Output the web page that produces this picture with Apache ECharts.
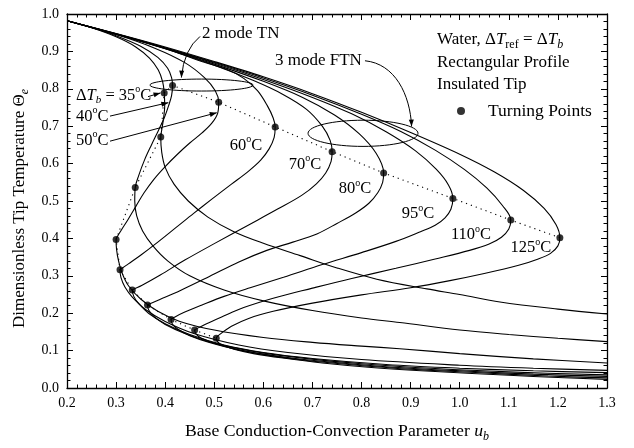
<!DOCTYPE html>
<html>
<head>
<meta charset="utf-8">
<script src="https://cdn.jsdelivr.net/npm/echarts@6/dist/echarts.min.js"></script>
<style>
html,body{margin:0;padding:0;background:#fff}
#chart{width:634px;height:448px}
</style>
</head>
<body>
<div id="chart"></div>
<script>
// Base temperature differences, one solution curve each
const deltaT = [35, 40, 50, 60, 70, 80, 95, 110, 125];

// Turning points (upper and lower fold of each curve), same order as deltaT
const turnUpper = [[0.398,0.789],[0.415,0.809],[0.509,0.764],[0.624,0.698],[0.740,0.632],[0.845,0.575],[0.986,0.507],[1.104,0.449],[1.204,0.402]];
const turnLower = [[0.391,0.671],[0.339,0.536],[0.300,0.397],[0.308,0.316],[0.333,0.262],[0.364,0.222],[0.412,0.183],[0.460,0.155],[0.504,0.133]];

// Upper branches: from u_b = 0.2 down to the upper turning point
const up35  = [[0.2,0.982],[0.25,0.963],[0.3,0.939],[0.34,0.912],[0.368,0.882],[0.386,0.85],[0.395,0.818]];
const up40  = [[0.2,0.982],[0.25,0.964],[0.3,0.942],[0.35,0.914],[0.385,0.884],[0.405,0.855],[0.413,0.83]];
const up50  = [[0.2,0.982],[0.3,0.945],[0.38,0.908],[0.44,0.87],[0.48,0.83],[0.502,0.795]];
const up60  = [[0.2,0.982],[0.3,0.946],[0.4,0.908],[0.47,0.875],[0.525,0.852],[0.56,0.828],[0.588,0.795],[0.608,0.755],[0.62,0.722]];
const up70  = [[0.2,0.982],[0.3,0.946],[0.4,0.907],[0.5,0.863],[0.58,0.822],[0.64,0.785],[0.688,0.745],[0.72,0.7],[0.736,0.662]];
const up80  = [[0.2,0.982],[0.3,0.946],[0.4,0.908],[0.5,0.866],[0.6,0.82],[0.68,0.777],[0.745,0.73],[0.795,0.68],[0.83,0.627]];
const up95  = [[0.2,0.982],[0.3,0.947],[0.4,0.909],[0.5,0.869],[0.6,0.825],[0.7,0.777],[0.78,0.733],[0.85,0.685],[0.91,0.634],[0.952,0.585],[0.977,0.543]];
const up110 = [[0.2,0.982],[0.3,0.947],[0.4,0.91],[0.5,0.871],[0.6,0.829],[0.7,0.783],[0.8,0.732],[0.88,0.686],[0.95,0.636],[1.01,0.584],[1.055,0.535],[1.087,0.488]];
const up125 = [[0.2,0.982],[0.3,0.948],[0.4,0.912],[0.5,0.873],[0.6,0.832],[0.7,0.787],[0.8,0.737],[0.9,0.683],[1.0,0.625],[1.07,0.578],[1.13,0.528],[1.172,0.48],[1.196,0.437]];

// Middle branches: from the upper turning point back to the lower one
const mid35  = [[0.399,0.755],[0.396,0.715],[0.393,0.69]];
const mid40  = [[0.413,0.782],[0.407,0.755],[0.398,0.722],[0.386,0.688],[0.372,0.65],[0.358,0.61],[0.346,0.568]];
const mid50  = [[0.507,0.735],[0.495,0.708],[0.475,0.682],[0.45,0.655],[0.425,0.625],[0.4,0.592],[0.377,0.558],[0.357,0.522],[0.34,0.485],[0.325,0.452],[0.312,0.425],[0.303,0.406]];
const mid60  = [[0.622,0.67],[0.612,0.64],[0.595,0.61],[0.57,0.58],[0.535,0.545],[0.495,0.505],[0.458,0.467],[0.423,0.43],[0.385,0.39],[0.35,0.355],[0.325,0.332],[0.313,0.321]];
const mid70  = [[0.738,0.606],[0.727,0.575],[0.708,0.546],[0.678,0.515],[0.63,0.479],[0.57,0.436],[0.5,0.386],[0.44,0.342],[0.39,0.302],[0.352,0.274],[0.337,0.265]];
const mid80  = [[0.843,0.55],[0.833,0.522],[0.815,0.494],[0.788,0.468],[0.75,0.44],[0.709,0.412],[0.66,0.39],[0.607,0.368],[0.55,0.337],[0.49,0.298],[0.43,0.26],[0.388,0.236],[0.369,0.225]];
const mid95  = [[0.982,0.478],[0.97,0.455],[0.95,0.435],[0.92,0.418],[0.87,0.392],[0.8,0.362],[0.72,0.33],[0.641,0.296],[0.573,0.268],[0.52,0.245],[0.475,0.222],[0.44,0.203],[0.42,0.19]];
const mid110 = [[1.1,0.425],[1.085,0.403],[1.06,0.385],[1.02,0.368],[0.95,0.345],[0.87,0.32],[0.78,0.293],[0.7,0.267],[0.62,0.24],[0.56,0.215],[0.515,0.19],[0.481,0.17],[0.465,0.159]];
const mid125 = [[1.2,0.38],[1.185,0.36],[1.16,0.345],[1.12,0.328],[1.05,0.306],[0.98,0.287],[0.9,0.268],[0.8,0.249],[0.7,0.227],[0.62,0.205],[0.57,0.186],[0.535,0.165],[0.512,0.144]];

// Lower branches: from the lower turning point out to u_b = 1.3
const low35  = [[0.393,0.63],[0.40,0.59],[0.418,0.545],[0.447,0.5],[0.487,0.457],[0.54,0.418],[0.6,0.387],[0.675,0.354],[0.75,0.321],[0.831,0.291],[0.933,0.265],[1.0,0.25],[1.082,0.23],[1.2,0.211],[1.3,0.198]];
const low40  = [[0.338,0.5],[0.342,0.46],[0.354,0.42],[0.375,0.38],[0.405,0.34],[0.45,0.3],[0.52,0.262],[0.6,0.233],[0.7,0.207],[0.8,0.187],[0.878,0.175],[1.0,0.155],[1.1,0.143],[1.2,0.133],[1.3,0.124]];
const low50  = [[0.301,0.37],[0.305,0.34],[0.313,0.305],[0.326,0.272],[0.35,0.238],[0.385,0.205],[0.43,0.178],[0.5,0.155],[0.6,0.135],[0.7,0.122],[0.8,0.112],[0.878,0.105],[1.0,0.092],[1.15,0.078],[1.3,0.067]];
const low60  = [[0.31,0.295],[0.318,0.27],[0.333,0.243],[0.36,0.21],[0.4,0.178],[0.46,0.145],[0.55,0.115],[0.65,0.095],[0.8,0.076],[1.0,0.061],[1.15,0.053],[1.3,0.047]];
const low70  = [[0.336,0.245],[0.346,0.226],[0.366,0.2],[0.4,0.172],[0.45,0.143],[0.52,0.115],[0.6,0.095],[0.7,0.079],[0.85,0.063],[1.0,0.053],[1.15,0.046],[1.3,0.041]];
const low80  = [[0.367,0.207],[0.378,0.19],[0.4,0.17],[0.44,0.146],[0.5,0.12],[0.58,0.098],[0.68,0.08],[0.8,0.065],[0.95,0.052],[1.1,0.043],[1.3,0.035]];
const low95  = [[0.415,0.17],[0.426,0.157],[0.45,0.14],[0.49,0.122],[0.55,0.102],[0.63,0.085],[0.73,0.07],[0.85,0.057],[1.0,0.046],[1.15,0.037],[1.3,0.031]];
const low110 = [[0.463,0.144],[0.474,0.133],[0.5,0.12],[0.54,0.105],[0.6,0.09],[0.68,0.075],[0.78,0.062],[0.9,0.05],[1.05,0.04],[1.18,0.032],[1.3,0.027]];
const low125 = [[0.507,0.123],[0.518,0.114],[0.54,0.104],[0.58,0.092],[0.64,0.08],[0.72,0.067],[0.82,0.055],[0.95,0.044],[1.1,0.034],[1.2,0.028],[1.3,0.023]];

const upperBranches  = [up35, up40, up50, up60, up70, up80, up95, up110, up125];
const middleBranches = [mid35, mid40, mid50, mid60, mid70, mid80, mid95, mid110, mid125];
const lowerBranches  = [low35, low40, low50, low60, low70, low80, low95, low110, low125];

// Axis ranges and ticks
const xRange = {min: 0.2, max: 1.3, step: 0.1};
const yRange = {min: 0.0, max: 1.0, step: 0.1};

const FONT = 'Liberation Serif';
const INK = '#000';

function richSet(size) {
  const s = Math.round(size * 0.68);
  return {
    t:   {fontFamily: FONT, fontSize: size, color: INK},
    i:   {fontFamily: FONT, fontSize: size, color: INK, fontStyle: 'italic'},
    sub: {fontFamily: FONT, fontSize: s, color: INK, fontStyle: 'italic', padding: [Math.round(size * 0.62), 0, 0, 0]},
    subr:{fontFamily: FONT, fontSize: s, color: INK, padding: [Math.round(size * 0.62), 0, 0, 0]},
    sup: {fontFamily: FONT, fontSize: Math.round(size * 0.62), color: INK, padding: [0, 0, Math.round(size * 0.7), 0]}
  };
}
const richXTitle = richSet(17.7);
const richYTitle = richSet(17);
const richNote = richSet(17);
const richTemp = richSet(16.5);

function fullCurve(k) {
  return upperBranches[k].concat([turnUpper[k]], middleBranches[k], [turnLower[k]], lowerBranches[k]);
}

// Locus of turning points: upper folds from hottest to coolest, then lower folds back out
const turnLocus = turnUpper.slice().reverse().concat(turnLower);
const turnAll = turnUpper.concat(turnLower);

const chart = echarts.init(document.getElementById('chart'), null, {renderer: 'canvas'});

function axisCommon(r, pos, showLabel) {
  return {
    type: 'value', min: r.min, max: r.max, interval: r.step, position: pos,
    axisLine: {show: true, onZero: false, lineStyle: {color: INK, width: 1.3}},
    axisTick: {show: true, inside: true, length: 6, lineStyle: {color: INK, width: 1}},
    minorTick: {show: true, splitNumber: 5, length: 3.5, lineStyle: {color: INK, width: 1}},
    splitLine: {show: false},
    axisLabel: {show: showLabel, color: INK, fontFamily: FONT, fontSize: 14, margin: 8,
                formatter: v => v.toFixed(1)}
  };
}

const series = deltaT.map((d, k) => ({
  name: d + ' C',
  type: 'line',
  data: fullCurve(k),
  smooth: 0.35,
  showSymbol: false,
  symbol: 'none',
  clip: true,
  lineStyle: {color: INK, width: 1.1},
  silent: true,
  z: 2
}));

series.push({
  name: 'locus',
  type: 'line',
  data: turnLocus,
  symbol: 'none',
  lineStyle: {color: INK, width: 1.1, type: [1.2, 4]},
  silent: true,
  z: 3
});

series.push({
  name: 'Turning Points',
  type: 'scatter',
  data: turnAll,
  symbol: 'circle',
  symbolSize: 7,
  itemStyle: {color: INK},
  z: 4
});

const xMain = axisCommon(xRange, 'bottom', true);
xMain.name = '{t|Base Conduction-Convection Parameter }{i|u}{sub|b}';
xMain.nameLocation = 'middle';
xMain.nameGap = 32;
xMain.nameTextStyle = {rich: richXTitle};

const yMain = axisCommon(yRange, 'left', true);
yMain.name = '{t|Dimensionless Tip Temperature Θ}{sub|e}';
yMain.nameLocation = 'middle';
yMain.nameGap = 36;
yMain.nameRotate = 90;
yMain.nameTextStyle = {rich: richYTitle, padding: [0, 15, 0, 0]};

const xTop = axisCommon(xRange, 'top', false);
const yRight = axisCommon(yRange, 'right', false);

chart.setOption({
  animation: false,
  backgroundColor: '#fff',
  grid: {left: 67, right: 27, top: 14, bottom: 59, containLabel: false},
  xAxis: [xMain, xTop],
  yAxis: [yMain, yRight],
  legend: {
    data: [{name: 'Turning Points', icon: 'circle'}],
    left: 452, top: 97,
    itemWidth: 8, itemHeight: 8,
    textStyle: {fontFamily: FONT, fontSize: 17.5, color: INK, padding: [0, 0, 0, 18]},
    selectedMode: false
  },
  series: series
});

// ---- annotations placed in data coordinates ----
function P(x, y) { return chart.convertToPixel({xAxisIndex: 0, yAxisIndex: 0}, [x, y]); }

function arrowHead(tip, from, len, half) {
  const dx = tip[0] - from[0], dy = tip[1] - from[1];
  const L = Math.hypot(dx, dy) || 1;
  const ux = dx / L, uy = dy / L;
  const bx = tip[0] - ux * len, by = tip[1] - uy * len;
  return {
    type: 'polygon', silent: true, z: 10,
    shape: {points: [tip, [bx - uy * half, by + ux * half], [bx + uy * half, by - ux * half]]},
    style: {fill: INK}
  };
}

function straightArrow(a, b) {
  const p = P(a[0], a[1]), q = P(b[0], b[1]);
  return [
    {type: 'line', silent: true, z: 10, shape: {x1: p[0], y1: p[1], x2: q[0], y2: q[1]},
     style: {stroke: INK, lineWidth: 1}},
    arrowHead(q, p, 7, 2.5)
  ];
}

function text(str, at, align, r) {
  const p = P(at[0], at[1]);
  return {type: 'text', silent: true, z: 10, x: p[0], y: p[1],
          style: {text: str, rich: r || richTemp, align: align || 'left', verticalAlign: 'middle',
                  fontFamily: FONT, fill: INK}};
}

function deg(n) { return '{t|' + n + '}{sup|o}{t|C}'; }

const g = [];

// temperature labels
g.push(text('{t|Δ}{i|T}{sub|b}{t| = 35}{sup|o}{t|C}', [0.2183, 0.782]));
g.push(text(deg(40), [0.2183, 0.726]));
g.push(text(deg(50), [0.2183, 0.662]));
g.push(text(deg(60), [0.5646, 0.649], 'center'));
g.push(text(deg(70), [0.6848, 0.598], 'center'));
g.push(text(deg(80), [0.7867, 0.532], 'center'));
g.push(text(deg(95), [0.915, 0.465], 'center'));
g.push(text(deg(110), [1.023, 0.409], 'center'));
g.push(text(deg(125), [1.145, 0.374], 'center'));

g.push(...straightArrow([0.365, 0.779], [0.3905, 0.789]));
g.push(...straightArrow([0.2876, 0.727], [0.4064, 0.763]));
g.push(...straightArrow([0.2876, 0.660], [0.505, 0.736]));

// "2 mode TN" region
{
  const c = P(0.474, 0.810), e = P(0.579, 0.826);
  g.push({type: 'ellipse', silent: true, z: 9,
          shape: {cx: c[0], cy: c[1], rx: e[0] - c[0], ry: c[1] - e[1]},
          style: {stroke: INK, fill: 'none', lineWidth: 1}});
  g.push(text('{t|2 mode TN}', [0.475, 0.947], 'left', richNote));
  const s = P(0.471, 0.940), cp = P(0.438, 0.905), t = P(0.433, 0.830);
  g.push({type: 'bezierCurve', silent: true, z: 10,
          shape: {x1: s[0], y1: s[1], cpx1: cp[0], cpy1: cp[1], x2: t[0], y2: t[1]},
          style: {stroke: INK, fill: 'none', lineWidth: 1}});
  g.push(arrowHead(t, P(0.434, 0.86), 7, 2.5));
}

// "3 mode FTN" region
{
  const c = P(0.803, 0.681), e = P(0.915, 0.716);
  g.push({type: 'ellipse', silent: true, z: 9,
          shape: {cx: c[0], cy: c[1], rx: e[0] - c[0], ry: c[1] - e[1]},
          style: {stroke: INK, fill: 'none', lineWidth: 1}});
  g.push(text('{t|3 mode FTN}', [0.6237, 0.875], 'left', richNote));
  const s = P(0.807, 0.875), c1 = P(0.868, 0.867), c2 = P(0.899, 0.785), t = P(0.902, 0.699);
  g.push({type: 'bezierCurve', silent: true, z: 10,
          shape: {x1: s[0], y1: s[1], cpx1: c1[0], cpy1: c1[1], cpx2: c2[0], cpy2: c2[1], x2: t[0], y2: t[1]},
          style: {stroke: INK, fill: 'none', lineWidth: 1}});
  g.push(arrowHead(t, P(0.901, 0.73), 7, 2.5));
}

// description block
g.push(text('{t|Water, Δ}{i|T}{subr|ref}{t| = Δ}{i|T}{sub|b}', [0.9537, 0.931], 'left', richNote));
g.push(text('{t|Rectangular Profile}', [0.9537, 0.870], 'left', richNote));
g.push(text('{t|Insulated Tip}', [0.9537, 0.811], 'left', richNote));

chart.setOption({graphic: g});
</script>
</body>
</html>
